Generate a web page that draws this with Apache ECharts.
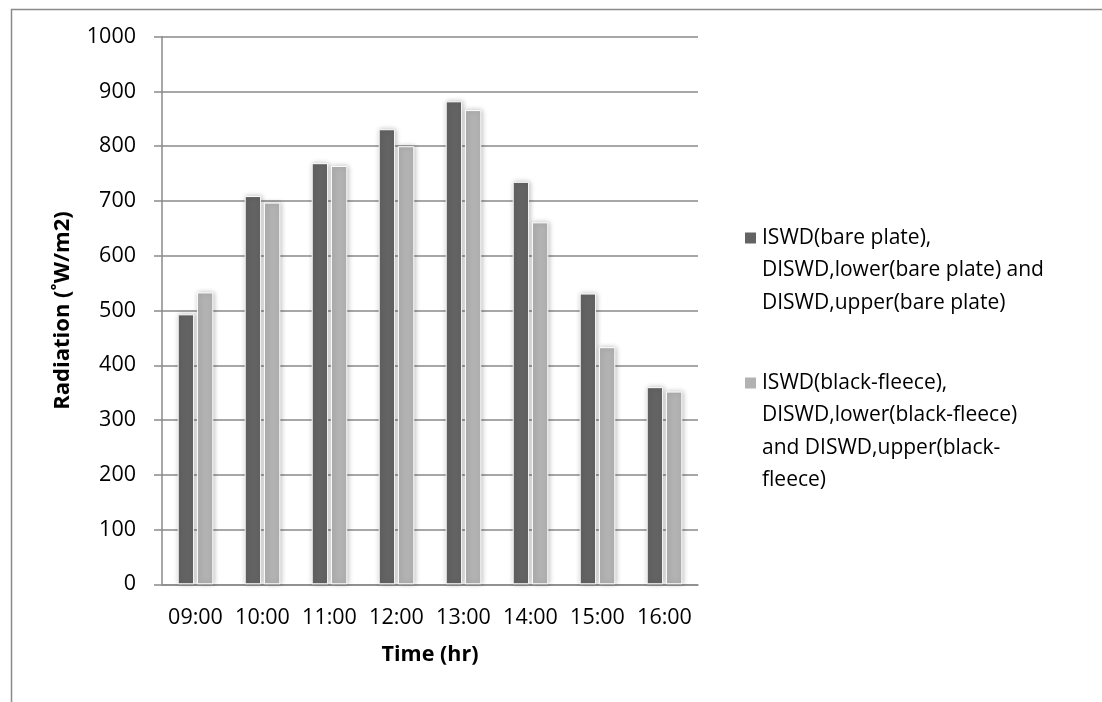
<!DOCTYPE html>
<html>
<head>
<meta charset="utf-8">
<script src="https://cdn.jsdelivr.net/npm/echarts@6/dist/echarts.min.js"></script>
<style>
html,body{margin:0;padding:0;background:#fff;}
#chart{width:1102px;height:702px;}
</style>
</head>
<body>
<div id="chart"></div>
<script>
const categories = ['09:00','10:00','11:00','12:00','13:00','14:00','15:00','16:00'];
const barePlate = [493, 709, 769, 831, 882, 735, 531, 360];
const blackFleece = [533, 697, 764, 800, 866, 661, 433, 352];
const seriesNames = [
  'ISWD(bare plate),\nDISWD,lower(bare plate) and\nDISWD,upper(bare plate)',
  'ISWD(black-fleece),\nDISWD,lower(black-fleece)\nand DISWD,upper(black-\nfleece)'
];
const yAxisTitle = 'Radiation (˚W/m2)';
const xAxisTitle = 'Time (hr)';

const FONT = '"Open Sans", Lato, sans-serif';
const LH = 32.5;
const ICON = 13;
const chart = echarts.init(document.getElementById('chart'), null, {renderer:'canvas'});

// Legend marker aligned with the first text line: a square at the top of a tall icon box.
function legendFor(name, lines, firstLineCenterY) {
  const h = lines * LH;
  const sqTop = LH / 2 - ICON / 2;
  const path = 'path://M0,0L0.001,0Z' +
    'M0,' + sqTop + 'L' + ICON + ',' + sqTop + 'L' + ICON + ',' + (sqTop + ICON) + 'L0,' + (sqTop + ICON) + 'Z' +
    'M0,' + h + 'L0.001,' + h + 'Z';
  return {
    data: [{name: name, icon: path}],
    orient: 'vertical',
    left: 743,
    top: firstLineCenterY - LH / 2,
    padding: 0,
    itemWidth: ICON,
    itemHeight: h,
    symbolKeepAspect: false,
    textStyle: {fontFamily: FONT, fontSize: 21, color: '#000', lineHeight: LH}
  };
}

chart.setOption({
  animation: false,
  backgroundColor: '#fff',
  graphic: [{
    type: 'rect', left: 9, top: 7,
    shape: {x: 0, y: 0, width: 1100, height: 700},
    style: {fill: 'none', stroke: '#8a8a8a', lineWidth: 1.5},
    silent: true
  }],
  grid: {left: 162, right: 404, top: 36.7, bottom: 117.7},
  legend: [
    legendFor(seriesNames[0], 3, 237),
    legendFor(seriesNames[1], 4, 382)
  ],
  xAxis: {
    type: 'category',
    data: categories,
    axisLine: {lineStyle: {color: '#8a8a8a', width: 1.5}},
    axisTick: {show: false},
    axisLabel: {fontFamily: FONT, fontSize: 21.5, color: '#000', margin: 23, interval: 0},
    name: xAxisTitle,
    nameLocation: 'middle',
    nameGap: 60,
    nameTextStyle: {fontFamily: FONT, fontSize: 21.5, fontWeight: 'bold', color: '#000'}
  },
  yAxis: {
    type: 'value',
    min: 0, max: 1000, interval: 100,
    axisLine: {show: true, lineStyle: {color: '#8a8a8a', width: 1.5}},
    axisTick: {show: true, length: 8, lineStyle: {color: '#8a8a8a', width: 1.5}},
    splitLine: {lineStyle: {color: '#8a8a8a', width: 1.5}},
    axisLabel: {fontFamily: FONT, fontSize: 21.5, color: '#000', margin: 26,
      formatter: function (v) { return String(v); }},
    name: yAxisTitle,
    nameLocation: 'middle',
    nameRotate: 90,
    nameGap: 88,
    nameTextStyle: {fontFamily: FONT, fontSize: 22, fontWeight: 'bold', color: '#000'}
  },
  series: [
    {
      name: seriesNames[0], type: 'bar', data: barePlate,
      barWidth: '24.5%', barGap: '17%',
      itemStyle: {color: '#636363', borderColor: '#ffffff', borderWidth: 1,
        shadowBlur: 5, shadowColor: 'rgba(0,0,0,0.25)', shadowOffsetX: 1, shadowOffsetY: 0}
    },
    {
      name: seriesNames[1], type: 'bar', data: blackFleece,
      barWidth: '24.5%', barGap: '17%',
      itemStyle: {color: '#b2b2b2', borderColor: '#ffffff', borderWidth: 1,
        shadowBlur: 5, shadowColor: 'rgba(0,0,0,0.25)', shadowOffsetX: 1, shadowOffsetY: 0}
    }
  ]
});
</script>
</body>
</html>
